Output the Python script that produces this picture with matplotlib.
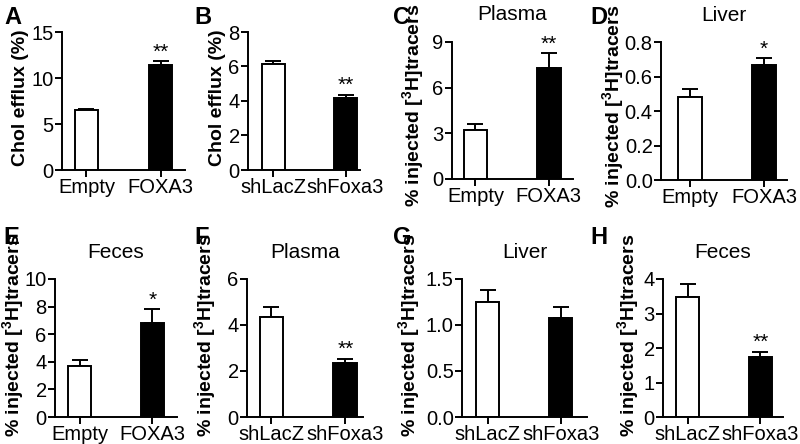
import numpy as np
import matplotlib
matplotlib.use("Agg")
import matplotlib.pyplot as plt

plt.rcParams['font.family'] = ['Liberation Sans', 'DejaVu Sans']

# data (mean, SEM)
groups_ov = ['Empty', 'FOXA3']
groups_sh = ['shLacZ', 'shFoxa3']

a_mean = [6.5, 11.4];   a_err = [0.1, 0.4]
b_mean = [6.15, 4.2];   b_err = [0.15, 0.15]
c_mean = [3.25, 7.3];   c_err = [0.35, 0.95]
d_mean = [0.48, 0.665]; d_err = [0.05, 0.04]
e_mean = [3.7, 6.8];    e_err = [0.4, 1.0]
f_mean = [4.35, 2.35];  f_err = [0.45, 0.18]
g_mean = [1.25, 1.08];  g_err = [0.13, 0.12]
h_mean = [3.47, 1.73];  h_err = [0.38, 0.15]

stars = {'A': '**', 'B': '**', 'C': '**', 'D': '*', 'E': '*', 'F': '**', 'G': '', 'H': '**'}

W, H = 800, 444
fig = plt.figure(figsize=(8, 4.44), dpi=100)

ylab_pct = '% injected [$\\mathregular{^3}$H]tracers'

# panel: letter, groups, mean, err, ylim, yticks, tick format, title, ylabel,
# axes pixel box (left, right, top, bottom), xlim, ylabel offset (dx, dy) in px
panels = [
    ('A', groups_ov, a_mean, a_err, 15, [0, 5, 10, 15], None, None, 'Chol efflux (%)',
     (62, 185, 32, 170), (-0.33, 1.33), (41, 3)),
    ('B', groups_sh, b_mean, b_err, 8, [0, 2, 4, 6, 8], None, None, 'Chol efflux (%)',
     (248, 360, 32, 170), (-0.35, 1.2), (31, 3)),
    ('C', groups_ov, c_mean, c_err, 9, [0, 3, 6, 9], None, 'Plasma', ylab_pct,
     (452, 573, 42, 179), (-0.32, 1.33), (39, 5)),
    ('D', groups_ov, d_mean, d_err, 0.8, [0, 0.2, 0.4, 0.6, 0.8], '%.1f', 'Liver', ylab_pct,
     (661, 787, 42, 180), (-0.39, 1.31), (48, 5)),
    ('E', groups_ov, e_mean, e_err, 10, [0, 2, 4, 6, 8, 10], None, 'Feces', ylab_pct,
     (55, 177, 279, 417), (-0.34, 1.34), (42, 13)),
    ('F', groups_sh, f_mean, f_err, 6, [0, 2, 4, 6], None, 'Plasma', ylab_pct,
     (247, 363, 279, 417), (-0.33, 1.24), (42, 13)),
    ('G', groups_sh, g_mean, g_err, 1.5, [0, 0.5, 1.0, 1.5], '%.1f', 'Liver', ylab_pct,
     (462, 587, 279, 417), (-0.35, 1.36), (53, 13)),
    ('H', groups_sh, h_mean, h_err, 4, [0, 1, 2, 3, 4], None, 'Feces', ylab_pct,
     (663, 783, 279, 417), (-0.34, 1.31), (35, 13)),
]

letter_pos = {'A': (4, 6), 'B': (194, 6), 'C': (393, 6), 'D': (590, 6),
              'E': (3, 226), 'F': (194, 226), 'G': (393, 226), 'H': (590, 226)}

for (letter, groups, mean, err, ymax, yt, fmt, title, ylabel, box, xl, lab) in panels:
    l, r, t, b = box
    wpx, hpx = r - l, b - t
    ax = fig.add_axes([l / W, 1 - b / H, wpx / W, hpx / H])
    x = np.arange(len(groups))
    ax.bar(x, mean, width=0.32, color=['white', 'black'], edgecolor='black',
           linewidth=1.4, zorder=2)
    ax.errorbar(x, mean, yerr=[np.zeros(len(err)), err], fmt='none', ecolor='black',
                elinewidth=1.4, capsize=6, capthick=1.4, zorder=1)
    ax.set_xlim(*xl)
    ax.set_ylim(0, ymax)
    ax.set_yticks(yt)
    if fmt:
        ax.set_yticklabels([fmt % v for v in yt])
    ax.set_xticks(x)
    ax.set_xticklabels(groups)
    ax.tick_params(axis='both', labelsize=14.5, width=1.4, length=5, pad=1, direction='out')
    for s in ['top', 'right']:
        ax.spines[s].set_visible(False)
    for s in ['left', 'bottom']:
        ax.spines[s].set_linewidth(1.4)
    dx, dy = lab
    ax.text(-dx / wpx, 0.5 + dy / hpx, ylabel, transform=ax.transAxes, rotation=90,
            ha='center', va='center', fontsize=14, fontweight='bold')
    if title:
        ax.text(0.5, 1 + 27 / hpx, title, transform=ax.transAxes, ha='center',
                va='center', fontsize=15)
    st = stars[letter]
    if st:
        ax.text(1, mean[1] + err[1], st, ha='center', va='bottom', fontsize=15)
    lx, ly = letter_pos[letter]
    fig.text(lx / W, 1 - ly / H, letter, fontsize=17, fontweight='bold', va='top', ha='left')

fig.savefig('out.png', dpi=100)
